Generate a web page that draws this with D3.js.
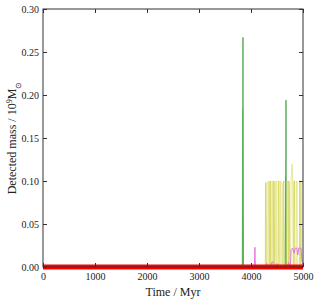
<!DOCTYPE html>
<html>
<head>
<meta charset="utf-8">
<script src="https://cdn.jsdelivr.net/npm/d3@7"></script>
<style>
body { margin: 0; background: #fff; }
text { font-family: "Liberation Serif", "Times New Roman", serif; fill: #222; }
</style>
</head>
<body>
<div id="chart"></div>
<script>
// Data (time in Myr, detected mass in 1e9 Msun)
var xTicks = [0, 1000, 2000, 3000, 4000, 5000];
var yTicks = [0.00, 0.05, 0.10, 0.15, 0.20, 0.25, 0.30];

var redSeries = [[0, 0], [1000, 0], [2000, 0], [3000, 0], [4000, 0], [5000, 0]];

var greenA = [[3820, 0], [3835, 0], [3846, 0.267], [3856, 0], [4660, 0], [4673, 0.194], [4683, 0], [5000, 0]];
var greenB = [[3820, 0], [3830, 0], [3838, 0.185], [3850, 0], [4650, 0], [4662, 0.105], [4672, 0], [5000, 0]];

var yellowA = [[4250, 0], [4275, 0], [4280, 0.098], [4290, 0.098], [4295, 0], [4355, 0], [4360, 0.1],
    [4372, 0.1], [4377, 0], [4430, 0], [4435, 0.1], [4448, 0.098], [4453, 0], [4520, 0],
    [4525, 0.1], [4537, 0.1], [4542, 0], [4610, 0], [4615, 0.097], [4628, 0.1], [4633, 0],
    [4720, 0], [4725, 0.1], [4737, 0.098], [4742, 0], [4820, 0], [4825, 0.1], [4838, 0.1],
    [4843, 0], [4930, 0], [4935, 0.1], [4948, 0.1], [4953, 0], [5000, 0]];
var yellowB = [[4300, 0], [4320, 0], [4325, 0.1], [4337, 0.099], [4342, 0], [4395, 0], [4400, 0.1],
    [4412, 0.1], [4417, 0], [4470, 0], [4475, 0.1], [4488, 0.1], [4493, 0], [4560, 0],
    [4565, 0.1], [4578, 0.099], [4583, 0], [4680, 0], [4690, 0.1], [4702, 0.1], [4707, 0],
    [4760, 0], [4770, 0.1], [4790, 0.12], [4800, 0.1], [4810, 0], [4870, 0], [4875, 0.1],
    [4888, 0.098], [4893, 0], [4970, 0], [4975, 0.1], [4995, 0.1], [5000, 0.1]];

var magenta = [[4040, 0], [4065, 0], [4075, 0.023], [4085, 0], [4290, 0], [4300, 0.004], [4320, 0],
    [4380, 0], [4395, 0.005], [4420, 0.006], [4440, 0], [4490, 0], [4500, 0.004], [4520, 0],
    [4700, 0], [4720, 0.005], [4740, 0], [4760, 0], [4770, 0.02], [4800, 0.022], [4830, 0.016],
    [4850, 0.022], [4880, 0.022], [4900, 0.014], [4920, 0.022], [4960, 0.022], [4980, 0.008], [5000, 0.004]];

var margin = {top: 9, right: 16, bottom: 33, left: 43};
var width = 319, height = 300;
var w = width - margin.left - margin.right;
var h = height - margin.top - margin.bottom;

var svg = d3.select("#chart").append("svg")
    .attr("width", width)
    .attr("height", height);

var g = svg.append("g")
    .attr("transform", "translate(" + margin.left + "," + margin.top + ")");

var x = d3.scaleLinear().domain([0, 5000]).range([0, w]);
var y = d3.scaleLinear().domain([0, 0.30]).range([h, 0]);

var line = d3.line()
    .x(function(d) { return x(d[0]); })
    .y(function(d) { return y(d[1]); });

var series = [
    {d: greenB, c: "#a8d8a0", o: 0.8, w: 1},
    {d: greenA, c: "#3fa33f", o: 0.8, w: 1},
    {d: yellowA, c: "#cccc30", o: 0.7, w: 1},
    {d: yellowB, c: "#dada60", o: 0.6, w: 1},
    {d: magenta, c: "#e070e0", o: 0.9, w: 1},
    {d: redSeries, c: "#ff0000", o: 1, w: 5}
];

g.selectAll("path.series")
    .data(series)
    .enter()
    .append("path")
    .attr("class", "series")
    .attr("d", function(d) { return line(d.d); })
    .attr("fill", "none")
    .attr("stroke", function(d) { return d.c; })
    .attr("stroke-opacity", function(d) { return d.o; })
    .attr("stroke-width", function(d) { return d.w; });

// frame
g.append("rect")
    .attr("width", w)
    .attr("height", h)
    .attr("fill", "none")
    .attr("stroke", "#333")
    .attr("stroke-width", 1);

function styleAxis(sel) {
    sel.select(".domain").remove();
    sel.selectAll("line").attr("stroke", "#333");
    sel.selectAll("text").style("font-size", "10px").style("font-family", "Liberation Serif, serif");
}

g.append("g")
    .attr("transform", "translate(0," + h + ")")
    .call(d3.axisBottom(x).tickValues(xTicks).tickFormat(d3.format("d")).tickSizeInner(-4).tickPadding(6))
    .call(styleAxis);
g.append("g")
    .call(d3.axisTop(x).tickValues(xTicks).tickFormat("").tickSizeInner(-4))
    .call(styleAxis);
g.append("g")
    .call(d3.axisLeft(y).tickValues(yTicks).tickFormat(d3.format(".2f")).tickSizeInner(-4).tickPadding(4))
    .call(styleAxis);
g.append("g")
    .attr("transform", "translate(" + w + ",0)")
    .call(d3.axisRight(y).tickValues(yTicks).tickFormat("").tickSizeInner(-4))
    .call(styleAxis);

svg.append("text")
    .attr("x", margin.left + w / 2)
    .attr("y", 296)
    .attr("text-anchor", "middle")
    .style("font-size", "12px")
    .text("Time / Myr");

var yl = svg.append("text")
    .attr("transform", "translate(16," + (margin.top + h / 2) + ") rotate(-90)")
    .attr("text-anchor", "middle")
    .style("font-size", "12px");
yl.append("tspan").text("Detected mass / 10");
yl.append("tspan").attr("baseline-shift", "super").style("font-size", "8px").text("9");
yl.append("tspan").text("M");
yl.append("tspan").attr("baseline-shift", "sub").style("font-size", "8px").text("\u2299");
</script>
</body>
</html>
